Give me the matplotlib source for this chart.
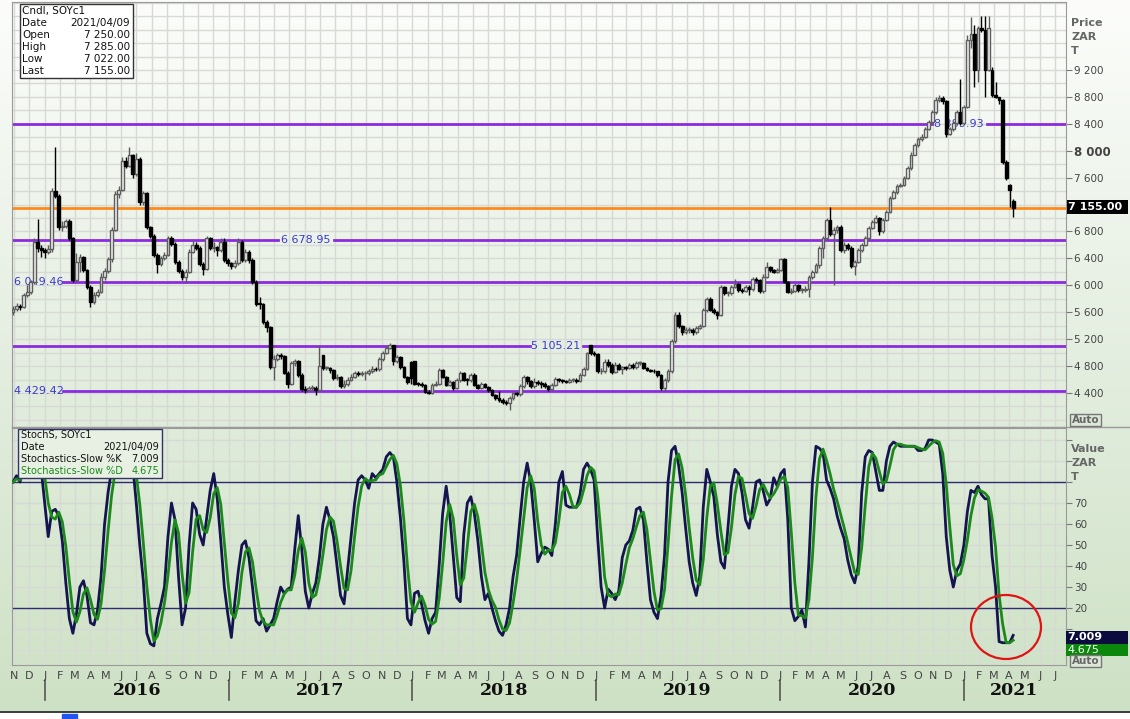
import numpy as np
import pandas as pd
import matplotlib
matplotlib.use("Agg")
import matplotlib.pyplot as plt
import matplotlib.dates as mdates
from matplotlib.patches import Rectangle, Ellipse
from matplotlib.lines import Line2D
from matplotlib.colors import LinearSegmentedColormap

# weekly SOYc1 candles, 2015/10/30 .. 2021/04/09
closes = [
    5650, 5700, 5680, 5850, 5900, 6050, 6650, 6550, 6520, 6500,
    6540, 7400, 7330, 6860, 6880, 6950, 6700, 6080, 6350, 6420,
    6230, 5980, 5750, 5850, 5900, 6120, 6220, 6390, 6820, 7350,
    7420, 7850, 7780, 7930, 7650, 7880, 7240, 7370, 6870, 6740,
    6450, 6310, 6400, 6450, 6700, 6620, 6350, 6220, 6120, 6200,
    6500, 6600, 6560, 6320, 6250, 6700, 6560, 6570, 6520, 6650,
    6370, 6330, 6280, 6330, 6650, 6380, 6500, 6370, 6050, 5730,
    5720, 5450, 5380, 4790, 4900, 4960, 4950, 4700, 4540, 4840,
    4870, 4670, 4460, 4450, 4470, 4480, 4450, 4800, 4770, 4770,
    4740, 4620, 4640, 4510, 4530, 4600, 4640, 4700, 4680, 4690,
    4690, 4720, 4760, 4750, 4900, 5000, 5070, 5110, 4870, 4930,
    4790, 4640, 4560, 4620, 4540, 4530, 4520, 4420, 4400, 4520,
    4540, 4740, 4640, 4520, 4560, 4480, 4590, 4690, 4600, 4590,
    4670, 4520, 4480, 4530, 4490, 4445, 4370, 4330, 4300, 4270,
    4250, 4320, 4400, 4380, 4500, 4640, 4580, 4500, 4570, 4550,
    4530, 4500, 4460, 4520, 4610, 4590, 4580, 4570, 4590, 4600,
    4580, 4670, 4760, 4990, 4990, 4980, 4720, 4720, 4860, 4820,
    4710, 4820, 4760, 4780, 4770, 4820, 4780, 4840, 4850, 4770,
    4740, 4730, 4720, 4670, 4480, 4590, 4720, 5170, 5560, 5390,
    5300, 5330, 5340, 5300, 5370, 5400, 5630, 5800, 5640, 5600,
    5560, 5980, 5880, 5880, 5980, 6020, 5930, 5920, 5980, 5940,
    6100, 6080, 5920, 6130, 6270, 6230, 6200, 6230, 6390, 6050,
    5900, 5920, 6000, 5930, 5930, 5950, 6120, 6200, 6300, 6550,
    6700, 6970, 6770, 6820, 6870, 6530, 6600, 6560, 6280, 6350,
    6520, 6600, 6700, 6850, 6940, 7000, 6800, 6970, 7090, 7300,
    7380, 7480, 7490, 7600, 7740, 7940, 8080, 8180, 8210, 8330,
    8420, 8570, 8750, 8790, 8740, 8250, 8320, 8410, 8580, 8410,
    8650, 9650, 9740, 9200, 9820, 9800, 9200, 9820, 8830, 8800,
    8750, 7840, 7590, 7420, 7155,
]
highs = [
    5700, 5740, 5730, 5880, 6000, 6080, 6700, 6990, 6600, 6560,
    6600, 7450, 8060, 7350, 6950, 6990, 6980, 6720, 6480, 6470,
    6440, 6250, 6000, 5900, 5950, 6180, 6260, 6420, 6860, 7400,
    7480, 7900, 7900, 8060, 7950, 7960, 7900, 7400, 7380, 6880,
    6760, 6480, 6430, 6490, 6740, 6740, 6640, 6370, 6240, 6240,
    6540, 6660, 6640, 6580, 6340, 6730, 6720, 6640, 6590, 6700,
    6700, 6400, 6350, 6380, 6700, 6680, 6540, 6520, 6400, 6080,
    5820, 5740, 5480, 5400, 4960, 5000, 5000, 4970, 4720, 4870,
    4900, 4890, 4690, 4500, 4510, 4520, 4500, 5110, 4970, 4800,
    4780, 4760, 4680, 4660, 4600, 4640, 4680, 4730, 4720, 4720,
    4730, 4760, 4800, 4790, 4930, 5030, 5100, 5140, 5120, 4970,
    4950, 4800, 4660, 4870, 4880, 4570, 4560, 4540, 4440, 4550,
    4580, 4770, 4760, 4660, 4590, 4580, 4620, 4720, 4710, 4630,
    4700, 4690, 4540, 4570, 4550, 4500, 4460, 4390, 4430, 4320,
    4290, 4350, 4430, 4420, 4530, 4670, 4660, 4600, 4620, 4600,
    4580, 4560, 4520, 4550, 4640, 4630, 4610, 4600, 4620, 4630,
    4620, 4700, 4790, 5010, 5120, 5020, 5000, 4770, 4900, 4900,
    4840, 4860, 4840, 4800, 4800, 4850, 4840, 4870, 4880, 4860,
    4790, 4760, 4750, 4730, 4680, 4620, 4750, 5200, 5600, 5610,
    5410, 5380, 5380, 5360, 5400, 5430, 5660, 5830, 5820, 5660,
    5620, 6000, 5990, 5920, 6010, 6090, 6040, 5960, 6010, 6000,
    6130, 6120, 6100, 6170, 6350, 6290, 6250, 6260, 6400, 6400,
    6070, 5960, 6030, 6020, 5960, 5990, 6160, 6230, 6330, 6580,
    6730, 7000, 7170, 6870, 6900, 6890, 6640, 6630, 6590, 6380,
    6550, 6630, 6730, 6880, 6970, 7050, 7010, 7000, 7120, 7330,
    7420, 7510, 7520, 7630, 7770, 7980, 8110, 8210, 8250, 8360,
    8450, 8600, 8800, 8830, 8810, 8760, 8360, 8440, 8610, 9070,
    8680, 9720, 9990, 9870, 9860, 10000, 10000, 10000, 9250, 9020,
    8800, 8770, 7860, 7510, 7285,
]
lows = [
    5560, 5620, 5640, 5660, 5820, 5870, 6020, 6500, 6420, 6400,
    6460, 6500, 7300, 6820, 6800, 6850, 6680, 6050, 6050, 6200,
    6200, 5950, 5680, 5720, 5820, 5880, 6080, 6180, 6350, 6800,
    7300, 7400, 7740, 7760, 7600, 7620, 7200, 7200, 6840, 6700,
    6420, 6180, 6290, 6380, 6430, 6580, 6320, 6180, 6080, 6040,
    6180, 6480, 6520, 6290, 6150, 6230, 6530, 6500, 6440, 6500,
    6340, 6290, 6250, 6260, 6300, 6350, 6340, 6330, 6020, 5700,
    5650, 5420, 5300, 4760, 4600, 4880, 4900, 4680, 4480, 4520,
    4800, 4640, 4430, 4400, 4430, 4440, 4370, 4430, 4740, 4740,
    4700, 4600, 4600, 4480, 4480, 4500, 4580, 4620, 4650, 4650,
    4600, 4670, 4700, 4720, 4730, 4880, 4980, 5050, 4820, 4850,
    4760, 4620, 4540, 4540, 4520, 4500, 4490, 4400, 4380, 4390,
    4500, 4520, 4620, 4500, 4500, 4440, 4460, 4570, 4580, 4520,
    4570, 4500, 4460, 4460, 4470, 4420, 4350, 4300, 4260, 4240,
    4220, 4150, 4300, 4350, 4360, 4480, 4540, 4470, 4480, 4520,
    4480, 4470, 4430, 4440, 4500, 4570, 4550, 4550, 4550, 4560,
    4550, 4560, 4650, 4740, 4960, 4950, 4700, 4680, 4700, 4790,
    4680, 4700, 4740, 4680, 4740, 4750, 4750, 4760, 4820, 4750,
    4720, 4710, 4690, 4640, 4440, 4430, 4570, 4700, 5150, 5360,
    5260, 5280, 5290, 5260, 5280, 5350, 5380, 5610, 5620, 5570,
    5500, 5540, 5850, 5840, 5860, 5960, 5900, 5890, 5900, 5860,
    5920, 6050, 5880, 5880, 6110, 6200, 6180, 6180, 6210, 6030,
    5880, 5870, 5900, 5900, 5880, 5900, 5820, 6100, 6180, 6260,
    6400, 6680, 6740, 6000, 6780, 6500, 6480, 6530, 6260, 6160,
    6330, 6500, 6580, 6680, 6830, 6920, 6750, 6780, 6950, 7070,
    7280, 7360, 7460, 7470, 7580, 7720, 7930, 8060, 8150, 8190,
    8310, 8400, 8550, 8720, 8700, 8200, 8230, 8300, 8390, 8380,
    8390, 8630, 9520, 8950, 9020, 9760, 8800, 9180, 8800, 8780,
    8700, 7800, 7560, 7160, 7022,
]
first_open = 5600
# weeks that opened away from the previous close
gap_opens = {88: 4960, 113: 4860, 114: 4870, 164: 5110, 278: 9200, 283: 7490, 284: 7250}

# slow stochastic %K (weekly)
stoch_k = [
    80, 83, 80, 88, 93, 96, 96, 92, 86, 70,
    54, 66, 67, 64, 52, 32, 15, 8, 17, 30,
    33, 26, 13, 12, 19, 35, 60, 75, 86, 94,
    98, 99, 97, 93, 88, 70, 50, 33, 8, 3,
    2, 15, 22, 30, 54, 70, 62, 35, 12, 20,
    50, 70, 67, 55, 50, 63, 76, 84, 72, 52,
    30, 17, 6, 23, 38, 50, 52, 44, 30, 14,
    12, 15, 9, 12, 15, 23, 30, 27, 29, 30,
    48, 64, 48, 28, 20, 27, 32, 44, 60, 68,
    62, 54, 40, 26, 22, 38, 54, 70, 81, 83,
    81, 77, 84, 82, 84, 86, 92, 94, 92, 80,
    63, 42, 15, 12, 27, 28, 22, 14, 8, 15,
    18, 40, 65, 78, 65, 45, 25, 23, 55, 70,
    73, 65, 52, 35, 24, 27, 20, 14, 9, 7,
    12, 20, 35, 45, 63, 80, 89, 80, 62, 42,
    46, 49, 48, 45, 60, 80, 85, 69, 68, 68,
    68, 74, 86, 89, 86, 81, 54, 30, 20, 29,
    27, 24, 28, 44, 50, 52, 57, 67, 68, 62,
    42, 24, 18, 15, 26, 45, 80, 95, 97, 88,
    75, 58, 42, 32, 26, 35, 68, 86, 80, 73,
    55, 42, 39, 58, 78, 86, 84, 75, 62, 58,
    68, 80, 81, 76, 69, 72, 82, 78, 84, 86,
    62, 20, 14, 16, 19, 11, 42, 80, 97, 96,
    94, 81, 77, 72, 64, 58, 53, 43, 36, 32,
    40, 75, 92, 95, 94, 85, 76, 76, 90, 97,
    99, 98, 97, 97, 97, 97, 97, 95, 95, 96,
    100, 100, 99, 98, 84, 54, 38, 30, 38, 41,
    50, 66, 76, 75, 78, 74, 72, 72, 45, 30,
    4, 3.5, 3.5, 3.5, 7.009,
]

levels = [4429.42, 5105.21, 6049.46, 6678.95, 8389.93]
last_price = 7155.00
month_letters = "JFMAMJJASOND"
years = [2016, 2017, 2018, 2019, 2020, 2021]

assert len(closes) == len(highs) == len(lows) == len(stoch_k) == 285

dates = pd.date_range("2015-10-30", periods=len(closes), freq="7D")
x = mdates.date2num(dates)
c = np.array(closes, dtype=float)
o = np.r_[first_open, c[:-1]]
for k, v in gap_opens.items():
    o[k] = v
h = np.array(highs, dtype=float)
l = np.array(lows, dtype=float)
stoch_d = pd.Series(stoch_k).rolling(3, min_periods=1).mean().values

W, H = 1130, 719


def fx(px):
    return px / W


def fy(py):
    return 1 - py / H


def sp(v):
    return f"{v:,.0f}".replace(",", " ")


fig = plt.figure(figsize=(W / 100, H / 100), dpi=100)

# background gradient
bg = fig.add_axes([0, 0, 1, 1], zorder=0)
grad = np.linspace(0, 1, 256).reshape(-1, 1)
cmap = LinearSegmentedColormap.from_list("bg", ["#fcfdfb", "#e4eee0", "#cde1c4"])
bg.imshow(grad, aspect="auto", cmap=cmap, extent=[0, 1, 0, 1], origin="upper")
bg.add_patch(Rectangle((0, 0), 1, 6 / H, color="white"))
bg.add_patch(Rectangle((fx(62), 0), 15 / W, 5 / H, color="#2255ee"))
bg.plot([0, 1], [fy(712), fy(712)], color="#222222", lw=1.2)
bg.plot([fx(12), 1], [fy(427), fy(427)], color="#9a9a9a", lw=1)
bg.set_xlim(0, 1)
bg.set_ylim(0, 1)
bg.axis("off")

xmin = mdates.date2num(pd.Timestamp("2015-10-28"))
xmax = mdates.date2num(pd.Timestamp("2021-07-23"))
grid_kw = dict(color="#d6d9d4", lw=1)

# ---------------- price panel ----------------
ax1 = fig.add_axes([fx(12), fy(427), fx(1066) - fx(12), fy(2) - fy(427)], zorder=2)
ax1.set_facecolor("none")
ax1.set_xlim(xmin, xmax)
ax1.set_ylim(3895, 10210)
ax1.set_axisbelow(True)
ax1.xaxis.set_major_locator(mdates.MonthLocator())
ax1.tick_params(axis="x", bottom=False, labelbottom=False)
ax1.yaxis.tick_right()
pticks = np.arange(4400, 9201, 400)
# 7 200 sits under the last-price tag, so its label is left out
ax1.set_yticks(pticks, ["" if v == 7200 else sp(v) for v in pticks])
ax1.set_yticks(np.arange(4000, 10201, 200), minor=True)
ax1.tick_params(axis="y", which="major", length=4, color="#777777", labelsize=7.5,
                labelcolor="#444444", pad=2)
ax1.tick_params(axis="y", which="minor", length=0)
for lbl in ax1.get_yticklabels():
    if lbl.get_text() == "8 000":
        lbl.set_fontweight("bold")
        lbl.set_fontsize(8.5)
ax1.grid(True, which="both", axis="y", **grid_kw)
ax1.grid(True, which="major", axis="x", **grid_kw)
for s in ax1.spines.values():
    s.set_color("#9a9a9a")

# support / resistance lines, broken where the label sits
lv_color = "#8a2be2"
lab_color = "#3a3ad0"
gaps = {6678.95: (0.2524, 0.3055, 0.279), 5105.21: (0.4915, 0.5417, 0.516),
        8389.93: (0.873, 0.925, 0.898)}
for lv in levels:
    txt = f"{lv:,.2f}".replace(",", " ")
    if lv in gaps:
        a, b, mid = gaps[lv]
        ax1.axhline(lv, 0, a, color=lv_color, lw=2, zorder=2)
        ax1.axhline(lv, b, 1, color=lv_color, lw=2, zorder=2)
        ax1.text(mid, lv, txt, transform=ax1.get_yaxis_transform(), ha="center",
                 va="center", color=lab_color, fontsize=8, zorder=2.5)
    else:
        ax1.axhline(lv, 0.0484, 1, color=lv_color, lw=2, zorder=2)
        ax1.text(0.002, lv, txt, transform=ax1.get_yaxis_transform(), ha="left",
                 va="center", color=lab_color, fontsize=8, zorder=2.5)
ax1.axhline(last_price, color="#ff8a1c", lw=2, zorder=2)

up = c >= o
body_lo = np.minimum(o, c)
body_h = np.maximum(np.abs(c - o), 14)
ax1.vlines(x, l, h, colors=np.where(up, "#5a5a5a", "#000000"), lw=1, zorder=3)
ax1.bar(x, body_h, bottom=body_lo, width=5.6,
        color=np.where(up, "#efefef", "#000000"),
        edgecolor=np.where(up, "#5e5e5e", "#000000"), linewidth=1.0, zorder=4)

# ---------------- stochastic panel ----------------
ax2 = fig.add_axes([fx(12), fy(665), fx(1066) - fx(12), fy(428) - fy(665)], zorder=2)
ax2.set_facecolor("none")
ax2.set_xlim(xmin, xmax)
ax2.set_ylim(-7.1, 105.7)
ax2.set_axisbelow(True)
ax2.xaxis.set_major_locator(mdates.MonthLocator())
ax2.tick_params(axis="x", bottom=False, labelbottom=False)
ax2.yaxis.tick_right()
sticks = np.arange(0, 101, 10)
ax2.set_yticks(sticks, [str(v) if 20 <= v <= 70 else "" for v in sticks])
ax2.tick_params(axis="y", length=4, color="#777777", labelsize=7.5,
                labelcolor="#444444", pad=2)
ax2.grid(True, axis="both", **grid_kw)
for s in ax2.spines.values():
    s.set_color("#9a9a9a")
ax2.axhline(80, color="#2e2e6e", lw=1, zorder=2)
ax2.axhline(20, color="#2e2e6e", lw=1, zorder=2)
ax2.plot(x, stoch_k, color="#14144e", lw=2, zorder=3)
ax2.plot(x, stoch_d, color="#1b8a1b", lw=2, zorder=4)

# month letters, year labels and separators under the lower panel
tr = ax2.get_xaxis_transform()
for m in pd.date_range("2015-11-01", "2021-07-01", freq="MS"):
    ax2.text(mdates.date2num(m), -0.045, month_letters[m.month - 1], transform=tr,
             ha="center", va="center", fontsize=8, color="#444444", clip_on=False)
for yr in years:
    xs = mdates.date2num(pd.Timestamp(f"{yr}-01-01"))
    ax2.add_line(Line2D([xs, xs], [-0.065, -0.148], transform=tr, color="#555555",
                        lw=1.2, clip_on=False))
    xm = mdates.date2num(pd.Timestamp(f"{yr}-04-10" if yr == 2021 else f"{yr}-07-02"))
    ax2.text(xm, -0.107, str(yr), transform=tr, ha="center", va="center",
             fontsize=12.5, fontweight="bold", family="DejaVu Serif", color="#111111",
             clip_on=False)


# ---------------- overlays in figure pixels ----------------
def box(x0, y0, x1, y1, face, edge=None, lw=0.0, z=5):
    fig.add_artist(Rectangle((fx(x0), fy(y1)), fx(x1) - fx(x0), fy(y0) - fy(y1),
                             transform=fig.transFigure, facecolor=face,
                             edgecolor=edge if edge else face, lw=lw, zorder=z))


def ftxt(px, py, s, **kw):
    kw.setdefault("fontsize", 7.5)
    kw.setdefault("va", "center")
    kw.setdefault("color", "#111111")
    fig.text(fx(px), fy(py), s, zorder=6, **kw)


# legend of the candle panel
box(20, 4, 133, 78, "white", "#333333", 1.0)
ftxt(22, 11, "Cndl, SOYc1")
for yy, name, val in [(23, "Date", "2021/04/09"), (35, "Open", "7 250.00"),
                      (47, "High", "7 285.00"), (59, "Low", "7 022.00"),
                      (71, "Last", "7 155.00")]:
    ftxt(22, yy, name)
    ftxt(130, yy, val, ha="right")

# legend of the stochastic panel
box(18, 429, 162, 478, "#e8f0e4", "#333366", 1.0)
ftxt(21, 435, "StochS, SOYc1", fontsize=7)
ftxt(21, 447, "Date", fontsize=7)
ftxt(159, 447, "2021/04/09", ha="right", fontsize=7)
ftxt(21, 459, "Stochastics-Slow %K", fontsize=7)
ftxt(159, 459, "7.009", ha="right", fontsize=7)
ftxt(21, 471, "Stochastics-Slow %D", color="#1b8a1b", fontsize=7)
ftxt(159, 471, "4.675", ha="right", color="#1b8a1b", fontsize=7)

# axis titles
for yy, s in [(23, "Price"), (37, "ZAR"), (51, "T")]:
    ftxt(1071, yy, s, fontweight="bold", color="#666666", fontsize=8)
for yy, s in [(449, "Value"), (463, "ZAR"), (477, "T")]:
    ftxt(1071, yy, s, fontweight="bold", color="#666666", fontsize=8)

# last price tag and value boxes
box(1067, 200, 1128, 214, "black")
ftxt(1068, 207.5, "7 155.00", color="white", fontweight="bold", fontsize=8)
box(1066, 631, 1128, 644, "#0b0b3e")
ftxt(1067, 637.5, "7.009", color="white", fontweight="bold", fontsize=8)
box(1066, 644, 1128, 656, "#0b870b")
ftxt(1067, 650, "4.675", color="white", fontsize=8)
for yy0, yy1 in [(414, 426), (655, 667)]:
    box(1070, yy0, 1101, yy1, "#dde8d8", "#777777", 1.0)
    ftxt(1085.5, (yy0 + yy1) / 2, "Auto", ha="center", color="#666666",
         fontweight="bold", fontsize=7.5)

# hand-drawn circle around the last readings
fig.add_artist(Ellipse((fx(1006), fy(627)), 70 / W, 64 / H, transform=fig.transFigure,
                       fill=False, edgecolor="#e01414", lw=1.6, zorder=7))

fig.savefig("out.png", dpi=100)
